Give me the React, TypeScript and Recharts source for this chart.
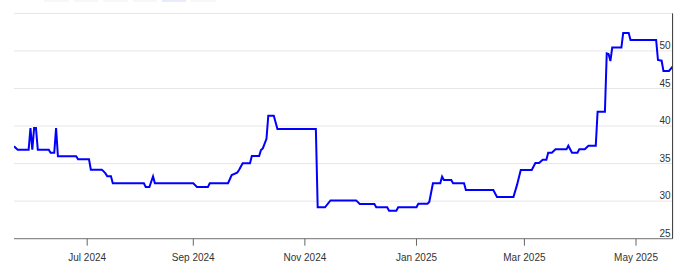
import React from 'react';
import { LineChart, Line, XAxis, YAxis, CartesianGrid } from 'recharts';

const dates = [
  '2024-05-26', '2024-05-28', '2024-06-03', '2024-06-04', '2024-06-05', '2024-06-06', '2024-06-07', '2024-06-08',
  '2024-06-14', '2024-06-15', '2024-06-17', '2024-06-18', '2024-06-19', '2024-06-29', '2024-06-30', '2024-07-06',
  '2024-07-07', '2024-07-13', '2024-07-14', '2024-07-15', '2024-07-16', '2024-07-18', '2024-07-19', '2024-08-05',
  '2024-08-06', '2024-08-08', '2024-08-10', '2024-08-11', '2024-09-01', '2024-09-03', '2024-09-09', '2024-09-10',
  '2024-09-20', '2024-09-22', '2024-09-25', '2024-09-26', '2024-09-28', '2024-10-02', '2024-10-03', '2024-10-07',
  '2024-10-08', '2024-10-09', '2024-10-11', '2024-10-12', '2024-10-15', '2024-10-17', '2024-11-07', '2024-11-08',
  '2024-11-12', '2024-11-15', '2024-11-29', '2024-12-01', '2024-12-09', '2024-12-10', '2024-12-16', '2024-12-17',
  '2024-12-21', '2024-12-22', '2025-01-01', '2025-01-02', '2025-01-07', '2025-01-08', '2025-01-10', '2025-01-14',
  '2025-01-15', '2025-01-16', '2025-01-20', '2025-01-21', '2025-01-27', '2025-01-28', '2025-02-12', '2025-02-14',
  '2025-02-23', '2025-02-25', '2025-02-27', '2025-03-05', '2025-03-07', '2025-03-09', '2025-03-11', '2025-03-13',
  '2025-03-14', '2025-03-16', '2025-03-18', '2025-03-24', '2025-03-25', '2025-03-27', '2025-03-30', '2025-03-31',
  '2025-04-03', '2025-04-05', '2025-04-09', '2025-04-10', '2025-04-14', '2025-04-15', '2025-04-16', '2025-04-17',
  '2025-04-18', '2025-04-23', '2025-04-24', '2025-04-27', '2025-04-28', '2025-05-12', '2025-05-13', '2025-05-15',
  '2025-05-16', '2025-05-19', '2025-05-21',
];

const prices = [
  37.3, 36.85, 36.85, 39.74, 36.85, 39.74, 39.74, 36.85,
  36.85, 36.45, 36.45, 39.74, 35.97, 35.97, 35.57, 35.57,
  34.19, 34.19, 33.97, 33.7, 33.3, 33.3, 32.38, 32.38,
  31.88, 31.88, 33.3, 32.38, 32.38, 31.9, 31.9, 32.38,
  32.38, 33.48, 33.8, 34.15, 35.04, 35.04, 36.0, 36.0,
  36.8, 37.03, 38.3, 41.38, 41.38, 39.6, 39.6, 29.18,
  29.18, 30.1, 30.1, 29.62, 29.62, 29.18, 29.18, 28.73,
  28.73, 29.18, 29.18, 29.66, 29.66, 29.9, 32.38, 32.38,
  33.26, 32.82, 32.82, 32.38, 32.38, 31.48, 31.48, 30.55,
  30.55, 32.2, 34.15, 34.15, 35.08, 35.08, 35.52, 35.52,
  36.45, 36.45, 36.9, 36.9, 37.38, 36.45, 36.45, 36.9,
  36.9, 37.38, 37.38, 41.9, 41.9, 49.68, 49.6, 48.66,
  50.45, 50.45, 52.4, 52.4, 51.46, 51.46, 48.8, 48.7,
  47.33, 47.33, 47.9,
];

const xTickDates = ['2024-07-05', '2024-09-01', '2024-11-01', '2025-01-01', '2025-03-01', '2025-05-01'];
const xDomainDates = ['2024-05-26', '2025-05-21'];
const yTicks = [25, 30, 35, 40, 45, 50, 55];
const yDomain = [25, 55];
const rangeButtonCount = 6;
const selectedButton = 4;

const MONTHS = ['Jan', 'Feb', 'Mar', 'Apr', 'May', 'Jun', 'Jul', 'Aug', 'Sep', 'Oct', 'Nov', 'Dec'];

const toT = (s: string) => Date.UTC(+s.slice(0, 4), +s.slice(5, 7) - 1, +s.slice(8, 10));
const fmt = (t: number) => {
  const d = new Date(t);
  return MONTHS[d.getUTCMonth()] + ' ' + d.getUTCFullYear();
};

const data = dates.map((d, i) => ({ t: toT(d), v: prices[i] }));
const xTicks = xTickDates.map(toT);
const xDomain = xDomainDates.map(toT);

const FONT = '"Liberation Sans", Arial, Helvetica, sans-serif';

const YTick = (props: any) => {
  const { y, payload } = props;
  if (payload.value === 55) return null;
  return (
    <text x={670.5} y={y - 1.8} textAnchor="end" fontSize={10} fill="#333" fontFamily={FONT}>
      {payload.value}
    </text>
  );
};

const XTick = (props: any) => {
  const { x, y, payload } = props;
  return (
    <text x={x} y={y} dy="0.71em" textAnchor="middle" fontSize={10} fill="#333" fontFamily={FONT}>
      {fmt(payload.value)}
    </text>
  );
};

export default function App() {
  return (
    <div style={{ position: 'absolute', left: 0, top: 0, width: 680, height: 264, background: '#fff', overflow: 'hidden' }}>
      {Array.from({ length: rangeButtonCount }).map((_, i) => (
        <div
          key={i}
          style={{
            position: 'absolute',
            left: 44.3 + i * 29.4,
            top: -20,
            width: 24.5,
            height: 22,
            background: i === selectedButton ? '#e8ecfa' : '#f7f7f7',
          }}
        />
      ))}
      <LineChart width={680} height={264} data={data} margin={{ top: 13.4, left: 14, right: 6.4, bottom: 0 }}>
        <CartesianGrid horizontal={true} vertical={false} stroke="#e6e6e6" strokeWidth={1} />
        <XAxis
          dataKey="t"
          type="number"
          domain={xDomain}
          ticks={xTicks}
          interval={0}
          allowDataOverflow={true}
          height={25.3}
          tickSize={7}
          tickMargin={8.5}
          axisLine={{ stroke: '#777' }}
          tickLine={{ stroke: '#666' }}
          tick={<XTick />}
        />
        <YAxis
          type="number"
          orientation="right"
          domain={yDomain}
          ticks={yTicks}
          interval={0}
          width={1}
          tickLine={false}
          axisLine={{ stroke: '#333' }}
          tick={<YTick />}
        />
        <Line
          type="linear"
          dataKey="v"
          stroke="#0000ff"
          strokeWidth={2}
          dot={false}
          activeDot={false}
          isAnimationActive={false}
        />
      </LineChart>
    </div>
  );
}
